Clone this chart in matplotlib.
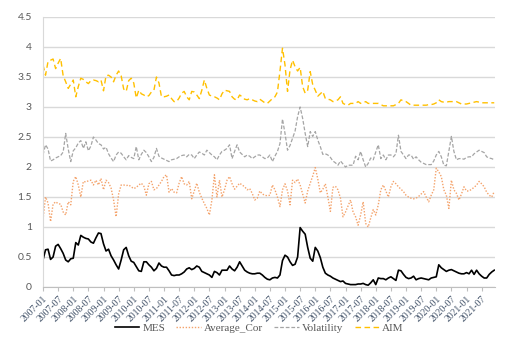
import numpy as np
import matplotlib.pyplot as plt

# monthly data, 2007-01 .. 2021-12
mes = [0.45, 0.62, 0.63, 0.46, 0.50, 0.68, 0.71, 0.64, 0.56, 0.45,
       0.42, 0.47, 0.48, 0.74, 0.70, 0.86, 0.83, 0.81, 0.80, 0.75,
       0.73, 0.82, 0.90, 0.89, 0.72, 0.60, 0.63, 0.52, 0.45, 0.37,
       0.30, 0.45, 0.62, 0.66, 0.52, 0.43, 0.41, 0.34, 0.27, 0.26,
       0.42, 0.42, 0.37, 0.33, 0.27, 0.31, 0.40, 0.35, 0.33, 0.33,
       0.27, 0.20, 0.19, 0.20, 0.20, 0.22, 0.25, 0.30, 0.32, 0.29,
       0.31, 0.35, 0.33, 0.26, 0.24, 0.22, 0.20, 0.16, 0.26, 0.24,
       0.20, 0.28, 0.28, 0.28, 0.35, 0.30, 0.27, 0.33, 0.42, 0.35,
       0.28, 0.25, 0.23, 0.22, 0.22, 0.23, 0.23, 0.20, 0.16, 0.13,
       0.12, 0.15, 0.16, 0.15, 0.20, 0.44, 0.53, 0.50, 0.42, 0.36,
       0.38, 0.50, 0.99, 0.93, 0.88, 0.66, 0.48, 0.43, 0.66, 0.60,
       0.49, 0.33, 0.23, 0.20, 0.18, 0.15, 0.13, 0.11, 0.09, 0.10,
       0.06, 0.05, 0.04, 0.04, 0.04, 0.05, 0.05, 0.06, 0.04, 0.03,
       0.07, 0.12, 0.04, 0.15, 0.14, 0.14, 0.12, 0.15, 0.17, 0.14,
       0.11, 0.28, 0.27, 0.21, 0.16, 0.14, 0.15, 0.18, 0.12, 0.14,
       0.15, 0.14, 0.13, 0.12, 0.15, 0.16, 0.17, 0.37, 0.32, 0.29,
       0.26, 0.28, 0.29, 0.27, 0.25, 0.23, 0.22, 0.22, 0.24, 0.22,
       0.28, 0.21, 0.28, 0.22, 0.18, 0.15, 0.15, 0.21, 0.25, 0.28]

avg_cor = [1.12, 1.50, 1.40, 1.09, 1.38, 1.42, 1.39, 1.38, 1.25, 1.20,
           1.42, 1.37, 1.76, 1.84, 1.70, 1.50, 1.76, 1.75, 1.77, 1.78,
           1.70, 1.78, 1.70, 1.81, 1.62, 1.78, 1.74, 1.65, 1.45, 1.17,
           1.55, 1.70, 1.70, 1.69, 1.70, 1.67, 1.64, 1.66, 1.70, 1.73,
           1.68, 1.53, 1.72, 1.76, 1.62, 1.64, 1.70, 1.76, 1.84, 1.87,
           1.58, 1.64, 1.58, 1.57, 1.73, 1.84, 1.72, 1.70, 1.76, 1.47,
           1.60, 1.73, 1.58, 1.48, 1.39, 1.31, 1.20, 1.45, 1.87, 1.50,
           1.78, 1.50, 1.62, 1.78, 1.84, 1.72, 1.63, 1.68, 1.73, 1.70,
           1.67, 1.62, 1.64, 1.56, 1.45, 1.48, 1.60, 1.55, 1.53, 1.52,
           1.53, 1.70, 1.62, 1.50, 1.34, 1.62, 1.72, 1.60, 1.37, 1.78,
           1.74, 1.80, 1.70, 1.55, 1.40, 1.60, 1.73, 1.85, 1.99, 1.80,
           1.57, 1.63, 1.72, 1.50, 1.26, 1.66, 1.68, 1.62, 1.48, 1.17,
           1.25, 1.35, 1.45, 1.25, 1.17, 1.03, 1.20, 1.42, 1.06, 1.00,
           1.15, 1.29, 1.20, 1.37, 1.62, 1.70, 1.60, 1.50, 1.67, 1.76,
           1.72, 1.67, 1.63, 1.59, 1.53, 1.50, 1.48, 1.47, 1.48, 1.51,
           1.55, 1.59, 1.50, 1.42, 1.53, 1.62, 1.98, 1.92, 1.84, 1.62,
           1.53, 1.31, 1.78, 1.62, 1.56, 1.45, 1.55, 1.67, 1.60, 1.60,
           1.63, 1.66, 1.70, 1.76, 1.72, 1.67, 1.58, 1.53, 1.50, 1.59]

volatility = [2.20, 2.37, 2.30, 2.10, 2.12, 2.15, 2.17, 2.19, 2.25, 2.56,
              2.30, 2.09, 2.27, 2.32, 2.40, 2.44, 2.31, 2.42, 2.27, 2.35,
              2.50, 2.45, 2.39, 2.37, 2.30, 2.33, 2.22, 2.15, 2.09, 2.20,
              2.25, 2.23, 2.17, 2.12, 2.19, 2.16, 2.14, 2.34, 2.12, 2.21,
              2.28, 2.24, 2.17, 2.09, 2.16, 2.31, 2.18, 2.15, 2.13, 2.11,
              2.09, 2.12, 2.13, 2.14, 2.17, 2.19, 2.20, 2.17, 2.21, 2.20,
              2.14, 2.20, 2.25, 2.23, 2.20, 2.28, 2.24, 2.20, 2.17, 2.12,
              2.20, 2.26, 2.28, 2.31, 2.37, 2.14, 2.26, 2.37, 2.25, 2.21,
              2.17, 2.20, 2.18, 2.14, 2.17, 2.20, 2.20, 2.17, 2.14, 2.15,
              2.20, 2.09, 2.18, 2.26, 2.39, 2.80, 2.56, 2.28, 2.36, 2.48,
              2.60, 2.84, 3.00, 2.81, 2.56, 2.34, 2.59, 2.51, 2.59, 2.45,
              2.34, 2.21, 2.22, 2.20, 2.16, 2.10, 2.07, 2.03, 2.10, 2.05,
              2.00, 2.03, 2.03, 2.03, 2.18, 2.12, 2.26, 2.12, 2.00, 2.06,
              2.15, 2.12, 2.25, 2.37, 2.14, 2.20, 2.12, 2.20, 2.20, 2.17,
              2.22, 2.53, 2.26, 2.20, 2.14, 2.20, 2.20, 2.13, 2.17, 2.12,
              2.08, 2.06, 2.04, 2.04, 2.04, 2.10, 2.20, 2.26, 2.17, 2.03,
              2.02, 2.26, 2.51, 2.26, 2.12, 2.14, 2.14, 2.13, 2.16, 2.17,
              2.17, 2.22, 2.25, 2.28, 2.26, 2.24, 2.17, 2.15, 2.14, 2.12]

aim = [3.70, 3.53, 3.76, 3.78, 3.80, 3.64, 3.73, 3.81, 3.52, 3.42,
       3.31, 3.38, 3.45, 3.17, 3.34, 3.48, 3.46, 3.42, 3.39, 3.44,
       3.45, 3.44, 3.42, 3.45, 3.27, 3.52, 3.53, 3.50, 3.42, 3.53,
       3.60, 3.52, 3.30, 3.26, 3.44, 3.48, 3.40, 3.15, 3.28, 3.22,
       3.20, 3.17, 3.19, 3.25, 3.28, 3.50, 3.40, 3.17, 3.17, 3.18,
       3.20, 3.14, 3.09, 3.09, 3.15, 3.23, 3.26, 3.17, 3.12, 3.26,
       3.25, 3.20, 3.14, 3.28, 3.45, 3.31, 3.20, 3.18, 3.17, 3.15,
       3.12, 3.22, 3.28, 3.27, 3.26, 3.17, 3.13, 3.12, 3.20, 3.17,
       3.13, 3.12, 3.14, 3.12, 3.10, 3.09, 3.13, 3.10, 3.07, 3.06,
       3.10, 3.14, 3.17, 3.25, 3.60, 3.98, 3.70, 3.26, 3.62, 3.78,
       3.67, 3.60, 3.66, 3.34, 3.23, 3.28, 3.59, 3.37, 3.28, 3.18,
       3.22, 3.26, 3.14, 3.13, 3.12, 3.09, 3.10, 3.12, 3.17, 3.06,
       3.04, 3.03, 3.06, 3.06, 3.06, 3.09, 3.06, 3.07, 3.09, 3.06,
       3.06, 3.06, 3.06, 3.06, 3.04, 3.02, 3.02, 3.02, 3.02, 3.02,
       3.04, 3.06, 3.12, 3.10, 3.09, 3.06, 3.03, 3.03, 3.03, 3.03,
       3.03, 3.03, 3.03, 3.04, 3.04, 3.05, 3.07, 3.12, 3.09, 3.08,
       3.08, 3.09, 3.09, 3.09, 3.09, 3.07, 3.05, 3.05, 3.05, 3.06,
       3.07, 3.08, 3.09, 3.08, 3.07, 3.07, 3.07, 3.07, 3.07, 3.07]

tick_labels = ['2007-01', '2007-07', '2008-01', '2008-07', '2009-01', '2009-07',
               '2010-01', '2010-07', '2011-01', '2011-07', '2012-01', '2012-07',
               '2013-01', '2013-07', '2014-01', '2014-07', '2015-01', '2015-07',
               '2016-01', '2016-07', '2017-01', '2017-07', '2018-01', '2018-07',
               '2019-01', '2019-07', '2020-01', '2020-07', '2021-01', '2021-07']

x = np.arange(len(mes))

fig = plt.figure(figsize=(5.29, 3.49), dpi=100)
ax = fig.add_axes([43/529, 1-287/349, 452/529, 270/349])

ax.plot(x, mes, color='black', lw=1.2, label='MES')
ax.plot(x, avg_cor, color='#F4A26A', lw=1.0, ls=(0, (1, 1.2)), label='Average_Cor')
ax.plot(x, volatility, color='#A5A5A5', lw=0.9, ls=(0, (3, 1.5)), label='Volatility')
ax.plot(x, aim, color='#FFC000', lw=1.0, ls=(0, (4, 2.5)), label='AIM')

ax.set_ylim(0, 4.5)
ax.set_xlim(0, len(mes) - 0.7)
yt = np.arange(0, 4.51, 0.5)
ax.set_yticks(yt)
ax.set_yticklabels(['0', '0.5', '1', '1.5', '2', '2.5', '3', '3.5', '4', '4.5'],
                   fontsize=7.5, color='#595959', family='Lato')
ax.yaxis.grid(True, color='#D9D9D9', lw=1)
ax.set_axisbelow(True)
ax.tick_params(axis='y', length=0, pad=8)

ax.set_xticks(x[::6])
ax.set_xticklabels(tick_labels, rotation=45, ha='right', rotation_mode='anchor',
                   fontsize=7, color='#44546A', family='Liberation Serif')
ax.tick_params(axis='x', length=3, color='#BFBFBF', pad=2)

for s in ['top', 'right']:
    ax.spines[s].set_visible(False)
ax.spines['left'].set_color('#D9D9D9')
ax.spines['bottom'].set_color('#BFBFBF')

fig.legend(loc='center', bbox_to_anchor=(0.49, 1-328/349), ncol=4, frameon=False,
           prop={'family': 'Liberation Serif', 'size': 8}, handlelength=2.2,
           columnspacing=1.0, handletextpad=0.3, labelcolor='#595959')

plt.savefig('out.png', dpi=100)
